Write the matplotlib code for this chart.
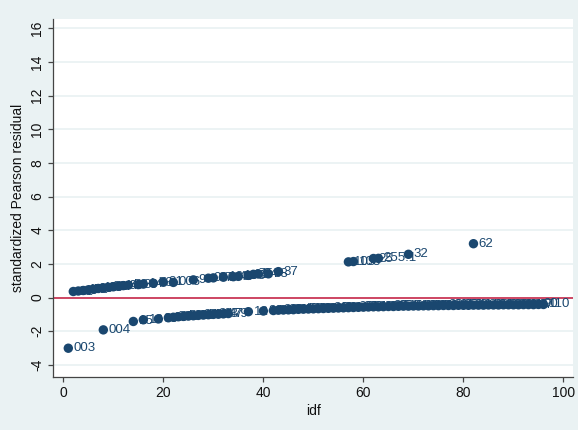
import matplotlib
matplotlib.use("Agg")
import matplotlib.pyplot as plt

plt.rcParams['font.family'] = ['Liberation Sans', 'DejaVu Sans']
plt.rcParams['axes.unicode_minus'] = False

# Observations: index (idf), standardized Pearson residual, and id label
upper_idf = [2, 3, 4, 5, 6, 7, 8, 9, 10, 11, 12, 13, 15, 16, 18, 20, 22, 26,
             29, 30, 32, 34, 35, 37, 38, 39, 41, 43,
             57, 58, 62, 63, 69, 82]
upper_res = [0.36, 0.39, 0.42, 0.46, 0.50, 0.54, 0.57, 0.61, 0.64, 0.67, 0.71, 0.74,
             0.77, 0.80, 0.85, 0.91, 0.90, 1.05, 1.15, 1.17, 1.21, 1.24, 1.26, 1.32,
             1.38, 1.40, 1.41, 1.54,
             2.12, 2.14, 2.32, 2.33, 2.57, 3.20]
upper_lab = ["21", "45", "17", "52", "08", "19", "33", "71", "27", "44", "66", "58",
             "39", "14", "73", "81", "006", "9", "080", "87", "168", "48", "103", "61",
             "75", "94", "88", "37",
             "105", "108", "25", "255.1", "32", "62"]

lower_idf = [1, 8, 14, 16, 19, 21, 22, 23, 24, 25, 26, 27, 28, 29, 30, 31, 32, 33,
             37, 40, 42, 43, 44, 45, 46, 47, 48, 49, 50, 51, 52, 53, 54, 55, 56,
             57, 58, 59, 60, 61, 62, 63, 64, 65, 66, 67, 68, 69, 70, 71, 72, 73,
             74, 75, 76, 77, 78, 79, 80, 81, 82, 83, 84, 85, 86, 87, 88, 89, 90,
             91, 92, 93, 94, 95, 96]
lower_res = [-3.01, -1.92, -1.42, -1.32, -1.27, -1.20, -1.17, -1.14, -1.12, -1.10,
             -1.08, -1.06, -1.04, -1.02, -1.00, -0.99, -0.97, -0.95,
             -0.84, -0.80, -0.77, -0.75, -0.74, -0.73, -0.72, -0.70, -0.69, -0.68,
             -0.67, -0.66, -0.65, -0.64, -0.63, -0.62, -0.61,
             -0.60, -0.59, -0.58, -0.57, -0.56, -0.55, -0.55, -0.54, -0.53, -0.53,
             -0.52, -0.51, -0.51, -0.50, -0.50, -0.49, -0.49,
             -0.48, -0.48, -0.47, -0.47, -0.47, -0.46, -0.46, -0.46, -0.45, -0.45,
             -0.45, -0.44, -0.44, -0.44, -0.43, -0.43, -0.43,
             -0.43, -0.42, -0.42, -0.42, -0.41, -0.41]
lower_lab = ["003", "004", "15", "13", "36", "29", "77", "41", "56", "68", "92", "24",
             "53", "10", "84", "63", "47", "79",
             "12", "30", "58", "86", "99", "31", "72", "46", "57", "18", "65", "38",
             "83", "26", "49", "70", "91",
             "34", "60", "22", "78", "51", "95", "43", "67", "28", "85", "54", "16",
             "74", "40", "97", "62", "35",
             "89", "50", "23", "69", "42", "98", "59", "76", "11", "64", "80", "25",
             "93", "48", "55", "82", "20",
             "70", "61", "39", "87", "90", "110"]

y_ticks = [-4, -2, 0, 2, 4, 6, 8, 10, 12, 14, 16]
x_ticks = [0, 20, 40, 60, 80, 100]

navy = '#1A476F'
bg = '#EAF2F3'

W, H = 578, 430
fig = plt.figure(figsize=(W / 100, H / 100), dpi=100, facecolor=bg)
left, right, top, bottom = 53.3, 573, 19, 376.5
ax = fig.add_axes([left / W, 1 - bottom / H, (right - left) / W, (bottom - top) / H])
ax.set_facecolor('white')

ax.set_xlim(-2.0, 101.9)
ax.set_ylim(-4.69, 16.55)

ax.yaxis.grid(True, color=bg, lw=1.3, zorder=0)
ax.set_axisbelow(True)
ax.axhline(0, color='#C8294A', lw=1.2, zorder=1)

all_idf = upper_idf + lower_idf
all_res = upper_res + lower_res
all_lab = upper_lab + lower_lab

for xv, yv, lab in zip(all_idf, all_res, all_lab):
    ax.annotate(lab, (xv, yv), xytext=(3.8, 0), textcoords='offset points',
                fontsize=9.5, color=navy, va='center', ha='left', zorder=2)
ax.scatter(all_idf, all_res, s=46, color=navy, edgecolors='none', zorder=3)

for s in ['top', 'right']:
    ax.spines[s].set_visible(False)
for s in ['left', 'bottom']:
    ax.spines[s].set_color('#444444')
    ax.spines[s].set_linewidth(0.9)

ax.set_xticks(x_ticks)
ax.set_yticks(y_ticks)
ax.tick_params(axis='both', direction='out', length=3.6, width=0.9,
               color='#444444', labelsize=10, labelcolor='#111111', pad=3)
for t in ax.get_yticklabels():
    t.set_rotation(90)
    t.set_va('center')

ax.set_xlabel('idf', fontsize=10, color='#111111', labelpad=3)
ax.set_ylabel('standardized Pearson residual', fontsize=10, color='#111111', labelpad=4)

fig.savefig('out.png', dpi=100, facecolor=bg)
